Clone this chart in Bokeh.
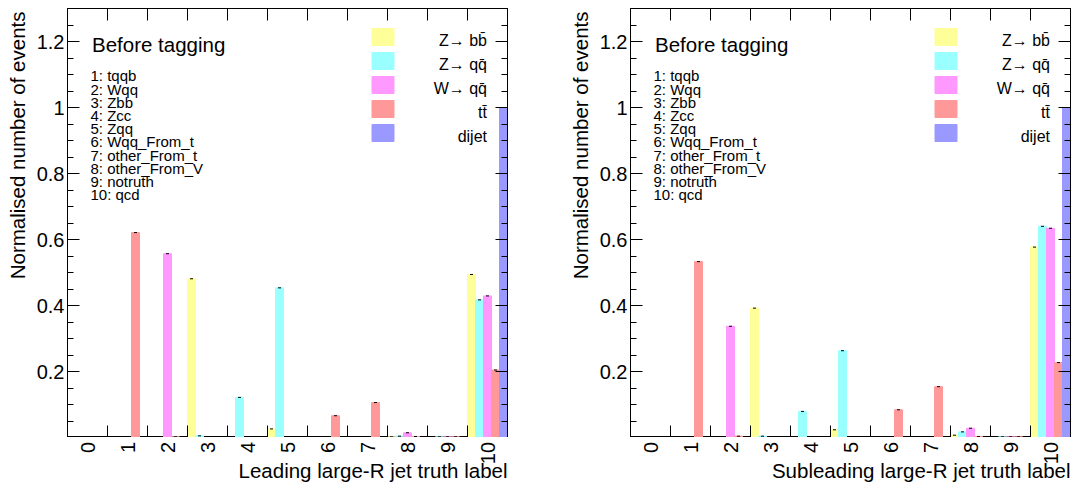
import numpy as np
from bokeh.plotting import figure
from bokeh.layouts import row, column
from bokeh.models import FixedTicker, LinearAxis, Label, Range1d, ColumnDataSource
from bokeh.embed import file_html
from bokeh.resources import INLINE

# ---- data -------------------------------------------------------------
bins = list(range(11))
bin_tick_labels = [str(b) for b in bins]

series_names = ["Z\u2192 bb\u0304", "Z\u2192 qq\u0304", "W\u2192 qq\u0304", "tt\u0304", "dijet"]
series_colors = ["#ffff99", "#99ffff", "#ff99ff", "#ff9999", "#9999ff"]

truth_names = ["1: tqqb", "2: Wqq", "3: Zbb", "4: Zcc", "5: Zqq", "6: Wqq_From_t",
               "7: other_From_t", "8: other_From_V", "9: notruth", "10: qcd"]

y_ticks = [0.2, 0.4, 0.6, 0.8, 1.0, 1.2]
y_tick_labels = ["0.2", "0.4", "0.6", "0.8", "1", "1.2"]
y_minor = [round(0.05 * k, 2) for k in range(1, 27)]

# leading large-R jet, normalised fractions per truth label
lead_zbb = [0, 0, 0, 0.481, 0, 0.026, 0, 0, 0.002, 0, 0.494]
lead_zqq = [0, 0, 0, 0.005, 0.1215, 0.4535, 0, 0, 0.004, 0.002, 0.417]
lead_wqq = [0, 0, 0.557, 0, 0, 0, 0, 0, 0.0143, 0.002, 0.429]
lead_tt = [0, 0.621, 0.002, 0, 0, 0, 0.066, 0.106, 0.003, 0.002, 0.2045]
lead_dijet = [0, 0, 0, 0, 0, 0, 0, 0, 0, 0, 1.0]

# subleading large-R jet
sub_zbb = [0, 0, 0, 0.392, 0, 0.0234, 0, 0, 0.007, 0, 0.577]
sub_zqq = [0, 0, 0, 0.004, 0.079, 0.263, 0, 0, 0.017, 0.002, 0.640]
sub_wqq = [0, 0, 0.337, 0, 0, 0, 0, 0, 0.028, 0.002, 0.634]
sub_tt = [0, 0.533, 0.004, 0, 0, 0, 0.084, 0.154, 0.003, 0.002, 0.227]
sub_dijet = [0, 0, 0, 0, 0, 0, 0, 0, 0, 0, 1.0]

FONT = "Liberation Sans"
BAR_W = 0.2
TITLE_PX = 20.5
BASE_FIX = 0.37  # lift of the alphabetic baseline, in em
FRAME_W = 440
STRIP_H = 49     # strip under each panel holding bin labels and axis title


def blank_fig(width, height, x_range=None, y_range=None):
    f = figure(width=width, height=height,
               x_range=x_range if x_range is not None else Range1d(0, 1),
               y_range=y_range if y_range is not None else Range1d(0, 1),
               output_backend="svg", toolbar_location=None,
               x_axis_type=None, y_axis_type=None, min_border=0)
    f.title.visible = False
    f.outline_line_color = None
    f.background_fill_color = "white"
    f.border_fill_color = "white"
    return f


def y_title_fig(width, baseline_x):
    f = blank_fig(width, 486)
    f.add_layout(Label(x=baseline_x - BASE_FIX * TITLE_PX, y=486 - 11,
                       x_units="screen", y_units="screen",
                       text="Normalised number of events", angle=np.pi / 2,
                       text_align="right", text_baseline="alphabetic",
                       text_font=FONT, text_font_size=f"{TITLE_PX}px", text_color="black"))
    return f


def x_strip_fig(width, x_range, text):
    # frame of this strip lines up with the panel frame above it;
    # y runs in pixels from the strip bottom
    f = blank_fig(width, STRIP_H, x_range=x_range, y_range=Range1d(0, STRIP_H))
    f.text(x=[b + 0.5 for b in bins], y=[STRIP_H - 4.5] * len(bins), text=bin_tick_labels,
           angle=np.pi / 2, text_align="right", text_baseline="middle",
           text_font={"value": FONT}, text_font_size="20px", text_color="black")
    f.add_layout(Label(x=FRAME_W, y=8 + BASE_FIX * TITLE_PX, x_units="screen", y_units="screen",
                       text=text, text_align="right", text_baseline="alphabetic",
                       text_font=FONT, text_font_size=f"{TITLE_PX}px", text_color="black"))
    return f


def make_panel(series, border_left, border_right):
    p = figure(width=border_left + FRAME_W + border_right, height=486 - STRIP_H,
               x_range=Range1d(0, 11), y_range=Range1d(0, 1.3),
               output_backend="svg", toolbar_location=None,
               min_border_left=border_left, min_border_right=border_right,
               min_border_top=8, min_border_bottom=0)
    p.title.visible = False
    p.xgrid.visible = False
    p.ygrid.visible = False
    p.outline_line_color = "black"
    p.outline_line_width = 1
    p.background_fill_color = "white"
    p.border_fill_color = "white"

    # bars: five series side by side inside each unit-wide bin
    for k, (vals, col) in enumerate(zip(series, series_colors)):
        xs = [b + BAR_W * k + BAR_W / 2 for b in bins]
        src = ColumnDataSource(dict(x=xs, top=vals))
        p.vbar(x="x", top="top", bottom=0, width=BAR_W, source=src,
               fill_color=col, line_color=col, line_width=1)
        nz = [(x, v) for x, v in zip(xs, vals) if v > 0]
        p.scatter(x=[a for a, _ in nz], y=[v for _, v in nz], marker="dash",
                  size=3, line_color="black", line_width=1)

    # bottom and top edges: tick marks at the bin edges
    xax = p.xaxis[0]
    xax.ticker = FixedTicker(ticks=[], minor_ticks=bins[1:])
    xax.major_label_standoff = 0
    xax.major_tick_in = 0
    xax.major_tick_out = 0
    xax.minor_tick_in = 12
    xax.minor_tick_out = 0
    xax.minor_tick_line_color = "black"
    xax.axis_line_color = "black"
    top = LinearAxis(ticker=FixedTicker(ticks=[], minor_ticks=bins[1:]),
                     major_label_standoff=0, minor_tick_in=12, minor_tick_out=0,
                     major_tick_in=0, major_tick_out=0, axis_line_color="black",
                     minor_tick_line_color="black")
    p.add_layout(top, "above")

    # left axis
    yax = p.yaxis[0]
    yax.ticker = FixedTicker(ticks=y_ticks, minor_ticks=y_minor)
    yax.major_label_overrides = {t: s for t, s in zip(y_ticks, y_tick_labels)}
    yax.major_tick_in = 12
    yax.major_tick_out = 0
    yax.minor_tick_in = 6
    yax.minor_tick_out = 0
    yax.major_tick_line_color = "black"
    yax.minor_tick_line_color = "black"
    yax.major_label_standoff = 3
    yax.major_label_text_font = FONT
    yax.major_label_text_font_size = "20px"
    yax.major_label_text_color = "black"
    yax.axis_line_color = "black"

    # mirrored y tick marks on the right edge
    right_major = LinearAxis(ticker=FixedTicker(ticks=[], minor_ticks=y_ticks),
                             major_label_standoff=0, minor_tick_in=12, minor_tick_out=0,
                             major_tick_in=0, major_tick_out=0, axis_line_color="black",
                             minor_tick_line_color="black")
    right_minor = LinearAxis(ticker=FixedTicker(ticks=[], minor_ticks=y_minor),
                             major_label_standoff=0, minor_tick_in=6, minor_tick_out=0,
                             major_tick_in=0, major_tick_out=0, axis_line_color="black",
                             minor_tick_line_color="black")
    p.add_layout(right_major, "right")
    p.add_layout(right_minor, "right")

    # stage header and truth-label key
    p.add_layout(Label(x=24.5, y=385 + BASE_FIX * TITLE_PX, x_units="screen", y_units="screen",
                       text="Before tagging", text_align="left", text_baseline="alphabetic",
                       text_font=FONT, text_font_size=f"{TITLE_PX}px", text_color="black"))
    for i, name in enumerate(truth_names):
        p.add_layout(Label(x=23, y=437 - 81 - 13.2 * i + BASE_FIX * 15,
                           x_units="screen", y_units="screen",
                           text=name, text_align="left", text_baseline="alphabetic",
                           text_font=FONT, text_font_size="15px", text_color="black"))

    # legend: swatches on the left, right-aligned entry text
    row_step = 24
    for k, (name, col) in enumerate(zip(series_names, series_colors)):
        cy = 437 - 36.5 - row_step * k
        p.rect(x=7.8875, y=cy / 330.0, width=0.55, height=17 / 330.0,
               fill_color=col, line_color=col)
        p.add_layout(Label(x=419.5, y=cy - 9.2 + BASE_FIX * 16, x_units="screen", y_units="screen",
                           text=name, text_align="right", text_baseline="alphabetic",
                           text_font=FONT, text_font_size="16px", text_color="black"))
    return p


p1 = make_panel([lead_zbb, lead_zqq, lead_wqq, lead_tt, lead_dijet], 37, 31)
p2 = make_panel([sub_zbb, sub_zqq, sub_wqq, sub_tt, sub_dijet], 37, 7)

left = row(y_title_fig(30, 25),
           column(p1, x_strip_fig(p1.width, p1.x_range, "Leading large-R jet truth label"),
                  spacing=0),
           spacing=0)
right = row(y_title_fig(55, 49.5),
            column(p2, x_strip_fig(p2.width, p2.x_range, "Subleading large-R jet truth label"),
                   spacing=0),
            spacing=0)

layout = row(left, right, spacing=0)
open("out.html", "w").write(file_html(layout, INLINE))
